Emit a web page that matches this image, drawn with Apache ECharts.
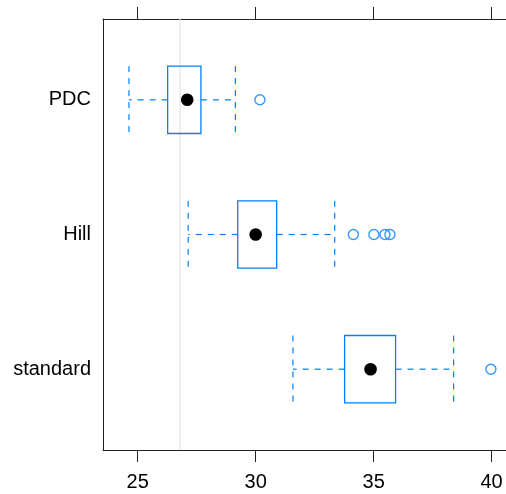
<!DOCTYPE html>
<html>
<head>
<meta charset="utf-8">
<script src="https://cdn.jsdelivr.net/npm/echarts@6/dist/echarts.min.js"></script>
<style>html,body{margin:0;padding:0;background:#fff}#c{width:506px;height:494px}</style>
</head>
<body>
<div id="c"></div>
<script>
var categories = ['standard', 'Hill', 'PDC'];
var whiskerLow = [31.58, 27.14, 24.63];
var q1 = [33.77, 29.24, 26.27];
var median = [34.87, 30.0, 27.10];
var q3 = [35.93, 30.89, 27.68];
var whiskerHigh = [38.39, 33.35, 29.14];
var outliers = [[39.97], [34.14, 35.01, 35.48, 35.69], [30.18]];
var refValue = 26.8;
var xTicks = [25, 30, 35, 40];

var BLUE = '#0080ff';
var FONT = 'Liberation Sans';

var boxData = categories.map(function (c, i) {
  return [i + 1, whiskerLow[i], q1[i], median[i], q3[i], whiskerHigh[i]];
});
var outlierData = [];
outliers.forEach(function (arr, i) {
  arr.forEach(function (v) { outlierData.push([v, i + 1]); });
});

function renderBox(params, api) {
  var y = api.value(0);
  var lo = api.coord([api.value(1), y]);
  var a = api.coord([api.value(2), y]);
  var m = api.coord([api.value(3), y]);
  var b = api.coord([api.value(4), y]);
  var hi = api.coord([api.value(5), y]);
  var h = api.size([0, 0.5])[1];
  var cy = lo[1];
  var dash = { stroke: BLUE, lineWidth: 1.2, lineDash: [6, 6], fill: null };
  var solid = { stroke: BLUE, lineWidth: 1.3, fill: null };
  return {
    type: 'group',
    children: [
      { type: 'line', shape: { x1: a[0], y1: cy, x2: lo[0], y2: cy }, style: dash },
      { type: 'line', shape: { x1: b[0], y1: cy, x2: hi[0], y2: cy }, style: dash },
      { type: 'line', shape: { x1: lo[0], y1: cy - h / 2, x2: lo[0], y2: cy + h / 2 }, style: dash },
      { type: 'line', shape: { x1: hi[0], y1: cy - h / 2, x2: hi[0], y2: cy + h / 2 }, style: dash },
      { type: 'rect', shape: { x: a[0], y: cy - h / 2, width: b[0] - a[0], height: h }, style: solid },
      { type: 'circle', shape: { cx: m[0], cy: cy, r: 6.3 }, style: { fill: '#000' } }
    ]
  };
}

var chart = echarts.init(document.getElementById('c'), null, { renderer: 'canvas' });
var axisLineStyle = { color: '#222', width: 1 };
chart.setOption({
  animation: false,
  backgroundColor: '#fff',
  grid: { left: 103, top: 19, right: 0, height: 431, containLabel: false },
  xAxis: [
    {
      type: 'value', position: 'bottom', min: 23.53, max: 40.61,
      axisLine: { show: true, onZero: false, lineStyle: axisLineStyle },
      axisTick: { show: true, length: 12, inside: false, customValues: xTicks, lineStyle: axisLineStyle },
      axisLabel: { show: true, margin: 22, customValues: xTicks, color: '#000', fontFamily: FONT, fontSize: 20 },
      splitLine: { show: false }
    },
    {
      type: 'value', position: 'top', min: 23.53, max: 40.61,
      axisLine: { show: true, onZero: false, lineStyle: axisLineStyle },
      axisTick: { show: true, length: 12, inside: false, customValues: xTicks, lineStyle: axisLineStyle },
      axisLabel: { show: false },
      splitLine: { show: false }
    }
  ],
  yAxis: {
    type: 'value', min: 0.4, max: 3.6,
    axisLine: { show: true, onZero: false, lineStyle: axisLineStyle },
    axisTick: { show: false },
    axisLabel: {
      show: true, margin: 12, customValues: [1, 2, 3], color: '#000', fontFamily: FONT, fontSize: 20,
      formatter: function (v) { return categories[Math.round(v) - 1]; }
    },
    splitLine: { show: false }
  },
  series: [
    {
      type: 'line', xAxisIndex: 0, data: [[refValue, 0.4], [refValue, 3.6]],
      symbol: 'none', z: 1, silent: true,
      lineStyle: { color: '#e3e3e3', width: 1.2 }
    },
    {
      type: 'custom', xAxisIndex: 0, renderItem: renderBox, data: boxData, z: 3,
      encode: { x: [1, 2, 3, 4, 5], y: 0 }, silent: true
    },
    {
      type: 'scatter', xAxisIndex: 0, data: outlierData, symbol: 'circle', symbolSize: 10, z: 4,
      itemStyle: { color: 'rgba(0,0,0,0)', borderColor: BLUE, borderWidth: 1.4 }, silent: true
    }
  ]
});
</script>
</body>
</html>
